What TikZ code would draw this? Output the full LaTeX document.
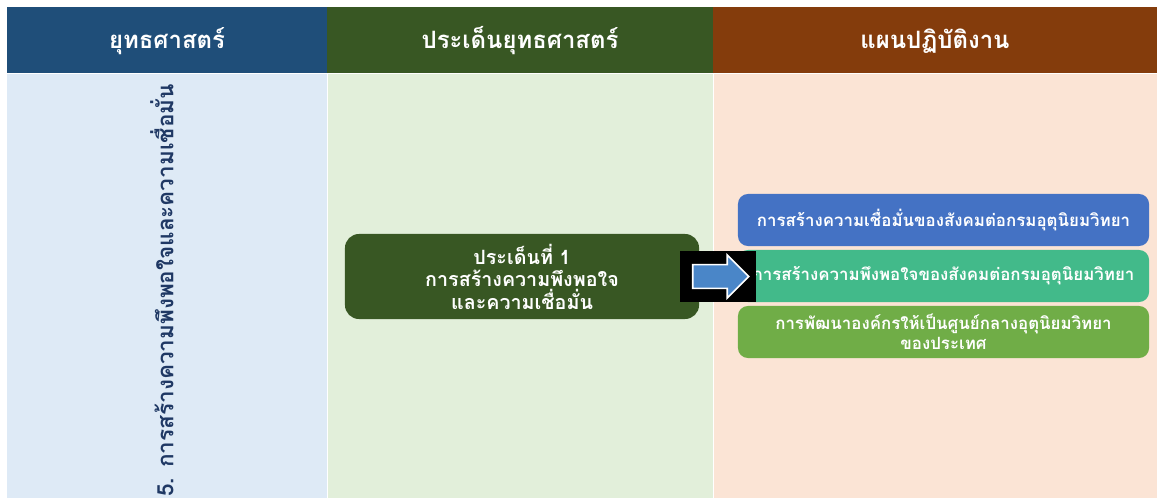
\documentclass[tikz,border=0pt]{standalone}
\usepackage{fontspec}
\newfontfamily\thaifont[Script=Thai]{Loma}
\usetikzlibrary{shapes.arrows}
\definecolor{headblue}{HTML}{1F4E79}
\definecolor{headgreen}{HTML}{385723}
\definecolor{headbrown}{HTML}{843C0C}
\definecolor{bodyblue}{HTML}{DEEAF6}
\definecolor{bodygreen}{HTML}{E2EFDA}
\definecolor{bodypeach}{HTML}{FBE4D5}
\definecolor{planblue}{HTML}{4472C4}
\definecolor{planteal}{HTML}{42BA8A}
\definecolor{plangreen}{HTML}{70AD47}
\definecolor{arrowblue}{HTML}{4A86C8}
\definecolor{textnavy}{HTML}{1F3864}
\tikzset{
  headtext/.style={text=white, font=\thaifont\bfseries\fontsize{17}{20}\selectfont},
  planbox/.style={rounded corners=0.25cm, text=white, align=center,
    minimum width=10.275cm, minimum height=1.3cm, inner sep=0pt,
    font=\thaifont\bfseries\fontsize{12}{14}\selectfont},
  issuebox/.style={rounded corners=0.35cm, fill=headgreen, text=white, align=center,
    minimum width=8.85cm, minimum height=2.125cm,
    font=\thaifont\bfseries\fontsize{14}{16}\selectfont},
}
\begin{document}
\begin{tikzpicture}[x=0.025cm, y=-0.025cm]
  \useasboundingbox (0,0) rectangle (1157,498);
  \fill[white] (0,0) rectangle (1157,498);
  % columns
  \fill[headblue] (7,7) rectangle (327,73);
  \fill[headgreen] (327,7) rectangle (713,73);
  \fill[headbrown] (713,7) rectangle (1157,73);
  \fill[bodyblue] (7,74) rectangle (327,498);
  \fill[bodygreen] (328,74) rectangle (713,498);
  \fill[bodypeach] (714,74) rectangle (1157,498);
  \draw[white, line width=0.6pt] (327,74) -- (327,498) (713,74) -- (713,498);
  % headings
  \node[headtext] (h1) at (167,41) {ยุทธศาสตร์};
  \node[headtext] (h2) at (520,41) {ประเด็นยุทธศาสตร์};
  \node[headtext] (h3) at (935,41) {แผนปฏิบัติงาน};
  % strategy
  \node[rotate=90, anchor=east, inner sep=0pt, text=textnavy,
    font=\thaifont\bfseries\fontsize{16}{19}\selectfont]
    (strat) at (162,84) {5. การสร้างความพึงพอใจและความเชื่อมั่น};
  % issue
  \node[issuebox] (issue) at (522,276.5) {ประเด็นที่ 1\\การสร้างความพึงพอใจ\\และความเชื่อมั่น};
  % plans
  \node[planbox, fill=planblue] (p1) at (943.5,220) {การสร้างความเชื่อมั่นของสังคมต่อกรมอุตุนิยมวิทยา};
  \node[planbox, fill=planteal] (p2) at (943.5,276) {การสร้างความพึงพอใจของสังคมต่อกรมอุตุนิยมวิทยา};
  \node[planbox, fill=plangreen] (p3) at (943.5,332) {การพัฒนาองค์กรให้เป็นศูนย์กลางอุตุนิยมวิทยา\\ของประเทศ};
  % arrow
  \node[fill=black, minimum width=1.9cm, minimum height=1.275cm, inner sep=0pt] (blk) at (718,276.5) {};
  \node[single arrow, fill=arrowblue, draw=white, line width=1.2pt,
    minimum height=1.4cm, single arrow head extend=0.24cm,
    inner sep=0pt, xshift=-0.08cm] (arr) at (blk) {\rule{0pt}{0.55cm}};
\end{tikzpicture}
\end{document}
